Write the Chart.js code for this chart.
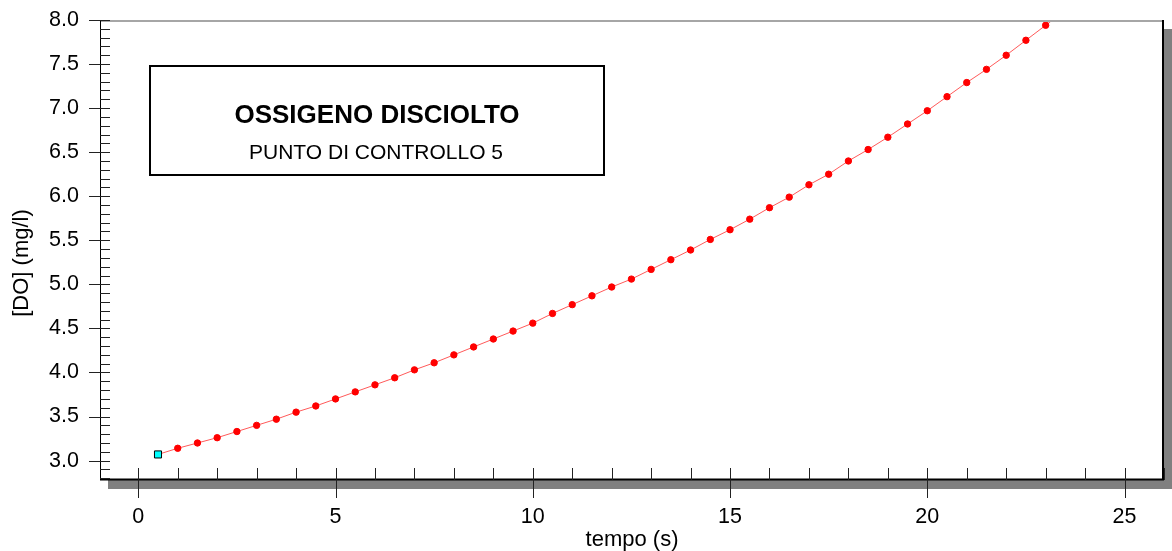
<!DOCTYPE html>
<html><head><meta charset="utf-8">
<script src="https://cdn.jsdelivr.net/npm/chart.js@4/dist/chart.umd.min.js"></script>
<style>html,body{margin:0;padding:0;background:#fff}#wrap{width:1172px;height:551px}</style>
</head><body><div id="wrap"><canvas id="c" width="1172" height="551"></canvas></div>
<script>
const timeValues = [0.5,1,1.5,2,2.5,3,3.5,4,4.5,5,5.5,6,6.5,7,7.5,8,8.5,9,9.5,10,10.5,11,11.5,12,12.5,13,13.5,14,14.5,15,15.5,16,16.5,17,17.5,18,18.5,19,19.5,20,20.5,21,21.5,22,22.5,23,23.5];
const doValues = [3.07,3.14,3.20,3.26,3.33,3.40,3.47,3.55,3.62,3.70,3.78,3.86,3.94,4.03,4.11,4.20,4.29,4.38,4.47,4.56,4.67,4.77,4.87,4.97,5.06,5.17,5.28,5.39,5.51,5.62,5.74,5.87,5.99,6.13,6.25,6.40,6.53,6.67,6.82,6.97,7.13,7.29,7.44,7.60,7.77,7.94,8.11];
const xTickValues = [0,5,10,15,20,25];
const yTickValues = [3.0,3.5,4.0,4.5,5.0,5.5,6.0,6.5,7.0,7.5,8.0];
const chartTitle = 'OSSIGENO DISCIOLTO';
const chartSubtitle = 'PUNTO DI CONTROLLO 5';
const xAxisTitle = 'tempo (s)';
const yAxisTitle = '[DO] (mg/l)';

const FONT = "'Liberation Sans', Arial, sans-serif";

const framePlugin = {
  id: 'frame',
  beforeDraw(chart) {
    const ctx = chart.ctx, a = chart.chartArea;
    ctx.save();
    ctx.fillStyle = '#ffffff';
    ctx.fillRect(0, 0, chart.width, chart.height);
    ctx.fillStyle = '#808080';
    ctx.fillRect(a.left + 8, a.bottom, a.right - a.left, 9);
    ctx.fillRect(a.right, a.top + 9, 8, a.bottom - a.top);
    ctx.restore();
  },
  afterDatasetsDraw(chart) {
    const ctx = chart.ctx, a = chart.chartArea;
    const xs = chart.scales.x, ys = chart.scales.y;
    ctx.save();
    ctx.strokeStyle = '#a6a6a6'; ctx.lineWidth = 2;
    ctx.beginPath(); ctx.moveTo(a.left, a.top + 1); ctx.lineTo(a.right, a.top + 1); ctx.stroke();
    ctx.strokeStyle = '#000'; ctx.lineWidth = 2;
    ctx.beginPath(); ctx.moveTo(a.right - 1, a.top); ctx.lineTo(a.right - 1, a.bottom); ctx.stroke();
    ctx.lineWidth = 1;
    ctx.beginPath(); ctx.moveTo(a.left + 0.5, a.top); ctx.lineTo(a.left + 0.5, a.bottom); ctx.stroke();
    ctx.lineWidth = 2;
    ctx.beginPath(); ctx.moveTo(a.left, a.bottom - 0.5); ctx.lineTo(a.right, a.bottom - 0.5); ctx.stroke();
    ctx.lineWidth = 1; ctx.strokeStyle = '#222';
    for (let k = Math.ceil(ys.min * 10); k <= Math.floor(ys.max * 10 + 1e-6); k++) {
      const py = Math.round(ys.getPixelForValue(k / 10)) + 0.5;
      const major = k % 5 === 0;
      ctx.beginPath(); ctx.moveTo(major ? a.left - 11 : a.left, py); ctx.lineTo(a.left + 10, py); ctx.stroke();
    }
    for (let k = Math.ceil(xs.min); k <= Math.floor(xs.max); k++) {
      const px = Math.round(xs.getPixelForValue(k)) + 0.5;
      const major = k % 5 === 0;
      ctx.beginPath(); ctx.moveTo(px, a.bottom - 12); ctx.lineTo(px, major ? a.bottom + 18 : a.bottom); ctx.stroke();
    }
    // y axis title
    ctx.fillStyle = '#000';
    ctx.save();
    ctx.translate(22, 263); ctx.rotate(-Math.PI / 2);
    ctx.textAlign = 'center'; ctx.textBaseline = 'middle';
    ctx.font = '22px ' + FONT;
    ctx.fillText(yAxisTitle, 0, 0);
    ctx.restore();
    // title box
    ctx.fillStyle = '#fff';
    ctx.fillRect(150, 66, 454, 109);
    ctx.strokeStyle = '#000'; ctx.lineWidth = 2;
    ctx.strokeRect(150, 66, 454, 109);
    ctx.fillStyle = '#000'; ctx.textAlign = 'center'; ctx.textBaseline = 'alphabetic';
    ctx.font = 'bold 26px ' + FONT;
    ctx.fillText(chartTitle, 377, 123);
    ctx.font = '21px ' + FONT;
    ctx.fillText(chartSubtitle, 376, 159);
    ctx.restore();
  }
};

const pointStyles = timeValues.map((t, i) => i === 0 ? 'rect' : 'circle');
const pointBg = timeValues.map((t, i) => i === 0 ? '#00ffff' : '#ff0000');
const pointBorder = timeValues.map((t, i) => i === 0 ? '#000000' : '#ff0000');
const pointRad = timeValues.map((t, i) => i === 0 ? 5 : 3.2);

function noPad(s) { s.paddingTop = 0; s.paddingBottom = 0; s.paddingLeft = 0; s.paddingRight = 0; }

new Chart(document.getElementById('c'), {
  type: 'line',
  data: {
    datasets: [{
      data: timeValues.map((t, i) => ({ x: t, y: doValues[i] })),
      borderColor: '#ff5a5a',
      borderWidth: 1,
      pointStyle: pointStyles,
      pointBackgroundColor: pointBg,
      pointBorderColor: pointBorder,
      pointBorderWidth: 1,
      pointRadius: pointRad,
      tension: 0
    }]
  },
  options: {
    responsive: false,
    devicePixelRatio: 1,
    animation: false,
    layout: { padding: { left: 0, right: 8, top: 20, bottom: 0 } },
    plugins: { legend: { display: false }, tooltip: { enabled: false } },
    scales: {
      x: {
        type: 'linear', position: 'bottom', min: -0.97, max: 26,
        afterFit(s) { s.height = 71; noPad(s); },
        afterBuildTicks(s) { s.ticks = xTickValues.map(v => ({ value: v })); },
        grid: { display: false, drawTicks: false },
        border: { display: false },
        ticks: { padding: 24, color: '#000', font: { family: FONT, size: 21.5 }, callback: v => String(v), maxRotation: 0, autoSkip: false },
        title: { display: true, text: xAxisTitle, color: '#000', font: { family: FONT, size: 22, lineHeight: 1 }, padding: { top: 0, bottom: 0 } }
      },
      y: {
        type: 'linear', position: 'left', min: 2.78, max: 8.0,
        afterFit(s) { s.width = 100; noPad(s); },
        afterBuildTicks(s) { s.ticks = yTickValues.map(v => ({ value: v })); },
        grid: { display: false, drawTicks: false },
        border: { display: false },
        ticks: { padding: 21, color: '#000', font: { family: FONT, size: 21.5 }, callback: v => Number(v).toFixed(1), autoSkip: false },
        title: { display: false }
      }
    }
  },
  plugins: [framePlugin]
});
</script></body></html>
